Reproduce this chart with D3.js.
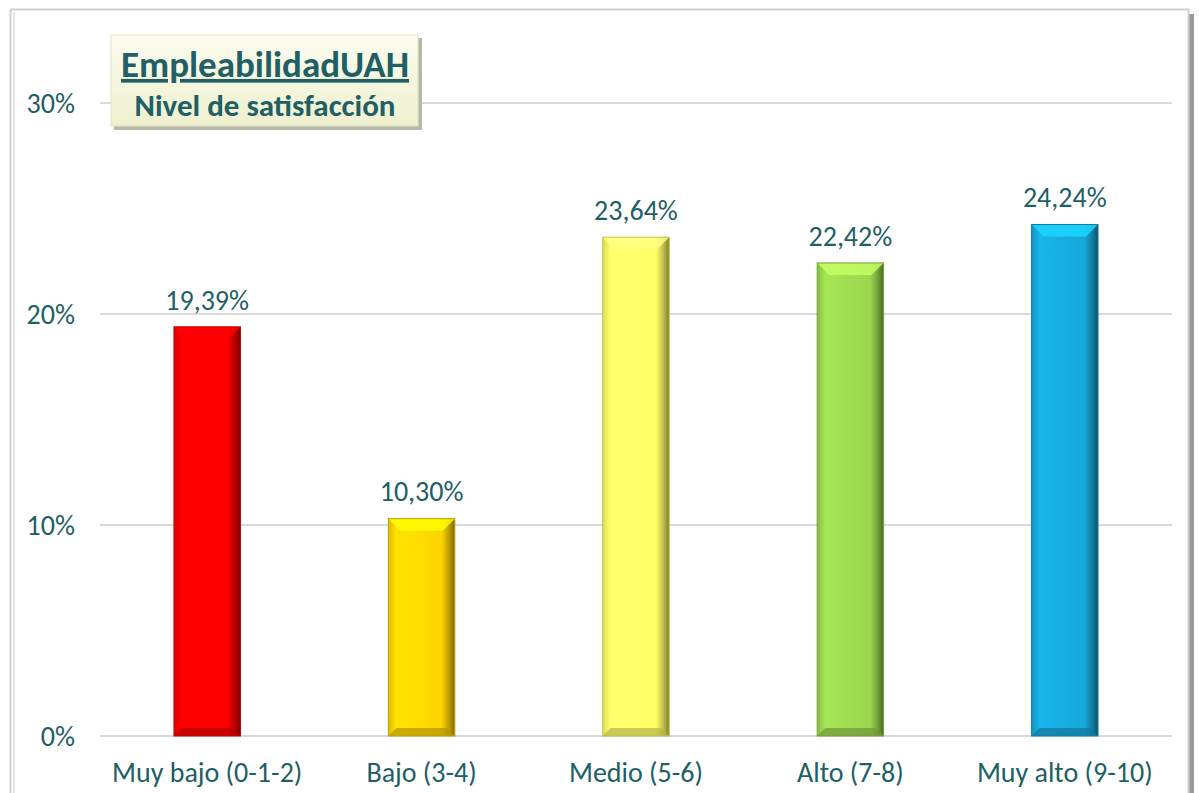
<!DOCTYPE html>
<html>
<head>
<meta charset="utf-8">
<script src="https://cdn.jsdelivr.net/npm/d3@7"></script>
<style>
  body { margin: 0; background: #fff; }
  svg { display: block; font-family: Carlito, Lato, sans-serif; }
</style>
</head>
<body>
<svg id="chart" width="1199" height="793"></svg>
<script>
/* ---------------------------------------------------
   Data
--------------------------------------------------- */

const categories = ["Muy bajo (0-1-2)", "Bajo (3-4)", "Medio (5-6)", "Alto (7-8)", "Muy alto (9-10)"];
const values = [19.39, 10.30, 23.64, 22.42, 24.24];
const barColours = ["#ff0000", "#ffd400", "#ffff66", "#9bd64e", "#16a8da"];
const yTicks = [0, 10, 20, 30];

const textColour = "#215f66";

/* ---------------------------------------------------
   Setup
--------------------------------------------------- */

const svg = d3.select("#chart");
const width = 1199;
const height = 793;
const margin = {top: 103, right: 27, bottom: 57, left: 100};

// frame with a little shadow on the right
svg.append("rect")
  .attr("x", 1188).attr("y", 14).attr("width", 6).attr("height", height)
  .attr("fill", "#9a9a9a");
svg.append("rect")
  .attr("x", 10.5).attr("y", 9.5).attr("width", 1178).attr("height", height)
  .attr("fill", "#fff").attr("stroke", "#d0d0d0").attr("stroke-width", 2);
svg.append("line")
  .attr("x1", 14).attr("x2", 14).attr("y1", 12).attr("y2", height)
  .attr("stroke", "#e4e4e4").attr("stroke-width", 2);

const x = d3.scaleBand()
  .domain(categories)
  .range([margin.left, width - margin.right])
  .paddingInner(0.69)
  .paddingOuter(0.345);

const y = d3.scaleLinear()
  .domain([0, 30])
  .range([height - margin.bottom, margin.top]);

/* ---------------------------------------------------
   Grid + axes
--------------------------------------------------- */

svg.append("g")
  .selectAll("line")
  .data(yTicks)
  .join("line")
  .attr("x1", margin.left)
  .attr("x2", width - margin.right)
  .attr("y1", d => y(d))
  .attr("y2", d => y(d))
  .attr("stroke", "#d9d9d9")
  .attr("stroke-width", 2);

svg.append("g")
  .selectAll("text")
  .data(yTicks)
  .join("text")
  .attr("x", 75)
  .attr("y", d => y(d))
  .attr("dy", "0.35em")
  .attr("text-anchor", "end")
  .attr("font-size", 28)
  .attr("fill", textColour)
  .text(d => d + "%");

svg.append("g")
  .selectAll("text")
  .data(categories)
  .join("text")
  .attr("x", d => x(d) + x.bandwidth() / 2)
  .attr("y", 772)
  .attr("dy", "0.35em")
  .attr("text-anchor", "middle")
  .attr("font-size", 28)
  .attr("fill", textColour)
  .text(d => d);

/* ---------------------------------------------------
   Bars (bevelled look)
--------------------------------------------------- */

const defs = svg.append("defs");

barColours.forEach((c, i) => {
  const base = d3.color(c);
  const g = defs.append("linearGradient")
    .attr("id", "bar" + i)
    .attr("x1", 0).attr("x2", 1).attr("y1", 0).attr("y2", 0);
  g.append("stop").attr("offset", "0%").attr("stop-color", base.darker(0.4));
  g.append("stop").attr("offset", "12%").attr("stop-color", base.brighter(0.2));
  g.append("stop").attr("offset", "80%").attr("stop-color", base);
  g.append("stop").attr("offset", "92%").attr("stop-color", base.darker(0.9));
  g.append("stop").attr("offset", "100%").attr("stop-color", base.darker(2));
});

const bars = svg.append("g")
  .selectAll("g")
  .data(values)
  .join("g");

bars.append("rect")
  .attr("x", (d, i) => x(categories[i]))
  .attr("y", d => y(d))
  .attr("width", x.bandwidth())
  .attr("height", d => y(0) - y(d))
  .attr("fill", (d, i) => `url(#bar${i})`);

// top bevel
bars.append("path")
  .attr("d", (d, i) => {
    const x0 = x(categories[i]), x1 = x0 + x.bandwidth(), t = y(d), b = 12;
    return `M${x0},${t}L${x1},${t}L${x1 - b},${t + b}L${x0 + b},${t + b}Z`;
  })
  .attr("fill", (d, i) => d3.color(barColours[i]).brighter(0.7))
  .attr("opacity", 0.8);

// bottom bevel
bars.append("path")
  .attr("d", (d, i) => {
    const x0 = x(categories[i]), x1 = x0 + x.bandwidth(), bt = y(0), b = 8;
    return `M${x0},${bt}L${x1},${bt}L${x1 - b},${bt - b}L${x0 + b},${bt - b}Z`;
  })
  .attr("fill", (d, i) => d3.color(barColours[i]).darker(1))
  .attr("opacity", 0.7);

bars.append("rect")
  .attr("x", (d, i) => x(categories[i]))
  .attr("y", d => y(d))
  .attr("width", x.bandwidth())
  .attr("height", d => y(0) - y(d))
  .attr("fill", "none")
  .attr("stroke", (d, i) => d3.color(barColours[i]).darker(0.8))
  .attr("stroke-width", 1);

bars.append("text")
  .attr("x", (d, i) => x(categories[i]) + x.bandwidth() / 2)
  .attr("y", d => y(d) - 27)
  .attr("dy", "0.35em")
  .attr("text-anchor", "middle")
  .attr("font-size", 28)
  .attr("fill", textColour)
  .text(d => d.toFixed(2).replace(".", ",") + "%");

/* ---------------------------------------------------
   Title box
--------------------------------------------------- */

const tg = defs.append("linearGradient")
  .attr("id", "titleBg")
  .attr("x1", 0).attr("x2", 0).attr("y1", 0).attr("y2", 1);
tg.append("stop").attr("offset", "0%").attr("stop-color", "#fbfcef");
tg.append("stop").attr("offset", "100%").attr("stop-color", "#eef0cf");

svg.append("rect")
  .attr("x", 114).attr("y", 38).attr("width", 308).attr("height", 92)
  .attr("fill", "#b8b8a8");
svg.append("rect")
  .attr("x", 111).attr("y", 35).attr("width", 307).attr("height", 91)
  .attr("fill", "url(#titleBg)")
  .attr("stroke", "#e2e4c6");

svg.append("text")
  .attr("x", 265).attr("y", 64)
  .attr("dy", "0.35em")
  .attr("text-anchor", "middle")
  .attr("font-size", 37)
  .attr("font-weight", "bold")
  .attr("fill", textColour)
  .attr("text-decoration", "underline")
  .text("EmpleabilidadUAH");

svg.append("text")
  .attr("x", 265).attr("y", 105)
  .attr("dy", "0.35em")
  .attr("text-anchor", "middle")
  .attr("font-size", 31)
  .attr("font-weight", "bold")
  .attr("fill", textColour)
  .text("Nivel de satisfacción");
</script>
</body>
</html>
